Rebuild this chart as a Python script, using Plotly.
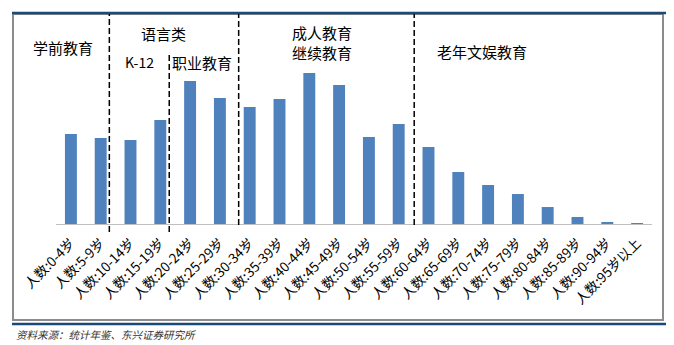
import plotly.graph_objects as go

# Population by five-year age group (estimated, 万人)
age_groups = ["人数:0-4岁", "人数:5-9岁", "人数:10-14岁", "人数:15-19岁", "人数:20-24岁",
              "人数:25-29岁", "人数:30-34岁", "人数:35-39岁", "人数:40-44岁", "人数:45-49岁",
              "人数:50-54岁", "人数:55-59岁", "人数:60-64岁", "人数:65-69岁", "人数:70-74岁",
              "人数:75-79岁", "人数:80-84岁", "人数:85-89岁", "人数:90-94岁", "人数:95岁以上"]
population = [7480, 7150, 6980, 8640, 11880, 10470, 9720, 10390, 12550, 11550,
              7230, 8310, 6400, 4320, 3240, 2490, 1410, 580, 170, 60]

# Segment labels and dividers (category-index positions)
segment_labels = ["学前教育", "语言类", "K-12", "职业教育", "成人教育<br>继续教育", "老年文娱教育"]
dividers = [1.29, 3.30, 5.63, 11.52]

W, H = 674, 345
L, R, T, B = 56, 652, 14, 224  # plot area in pixels


def px(x):
    return (x - L) / (R - L)


def py(y):
    return (B - y) / (B - T)


fig = go.Figure(go.Bar(
    x=age_groups, y=population,
    marker=dict(color="#4f81bd", line=dict(width=0)),
    width=0.4,
))

shapes = []
# outer frame
shapes.append(dict(type="rect", xref="paper", yref="paper",
                   x0=px(13), x1=px(663), y0=py(320), y1=py(14),
                   line=dict(color="#8c8c8c", width=2), layer="below"))
# navy rules at top and bottom
for yy in (13, 324):
    shapes.append(dict(type="line", xref="paper", yref="paper",
                       x0=px(12), x1=px(666), y0=py(yy), y1=py(yy),
                       line=dict(color="#1b4a7a", width=2.5)))
# dashed dividers
div_spans = [(14, 232), (52, 232), (14, 225), (14, 225)]
for d, (ytop, ybot) in zip(dividers, div_spans):
    shapes.append(dict(type="line", xref="x", yref="paper",
                       x0=d, x1=d, y0=py(ybot), y1=py(ytop),
                       line=dict(color="black", width=1.5, dash="6px,3px")))

label_pos = [(63, 47), (163, 33), (139, 62), (202, 63), (322, 43), (482, 51)]
label_sizes = [15, 15, 14, 15, 15, 15]
annotations = []
for txt, (x, y), sz in zip(segment_labels, label_pos, label_sizes):
    annotations.append(dict(text=txt, xref="paper", yref="paper", x=px(x), y=py(y),
                            showarrow=False, xanchor="center", yanchor="middle",
                            font=dict(family="Noto Sans CJK SC", size=sz, color="black"),
                            align="center"))
annotations.append(dict(text="<i>资料来源：统计年鉴、东兴证券研究所</i>", xref="paper", yref="paper",
                        x=px(14), y=py(334), showarrow=False, xanchor="left", yanchor="middle",
                        font=dict(family="Noto Sans CJK SC", size=10.5, color="#333333")))

fig.update_layout(
    width=W, height=H,
    margin=dict(l=L, r=W - R, t=T, b=H - B),
    paper_bgcolor="white", plot_bgcolor="white",
    showlegend=False,
    bargap=0.6,
    shapes=shapes,
    annotations=annotations,
    xaxis=dict(tickangle=-45, showline=True, linecolor="#bfbfbf", linewidth=1,
               ticks="", showgrid=False, ticklabelstandoff=5,
               tickfont=dict(family="Noto Sans CJK SC", size=13.5, color="black")),
    yaxis=dict(range=[0, 17450], visible=False, showgrid=False),
)

fig.write_html("out.html")
